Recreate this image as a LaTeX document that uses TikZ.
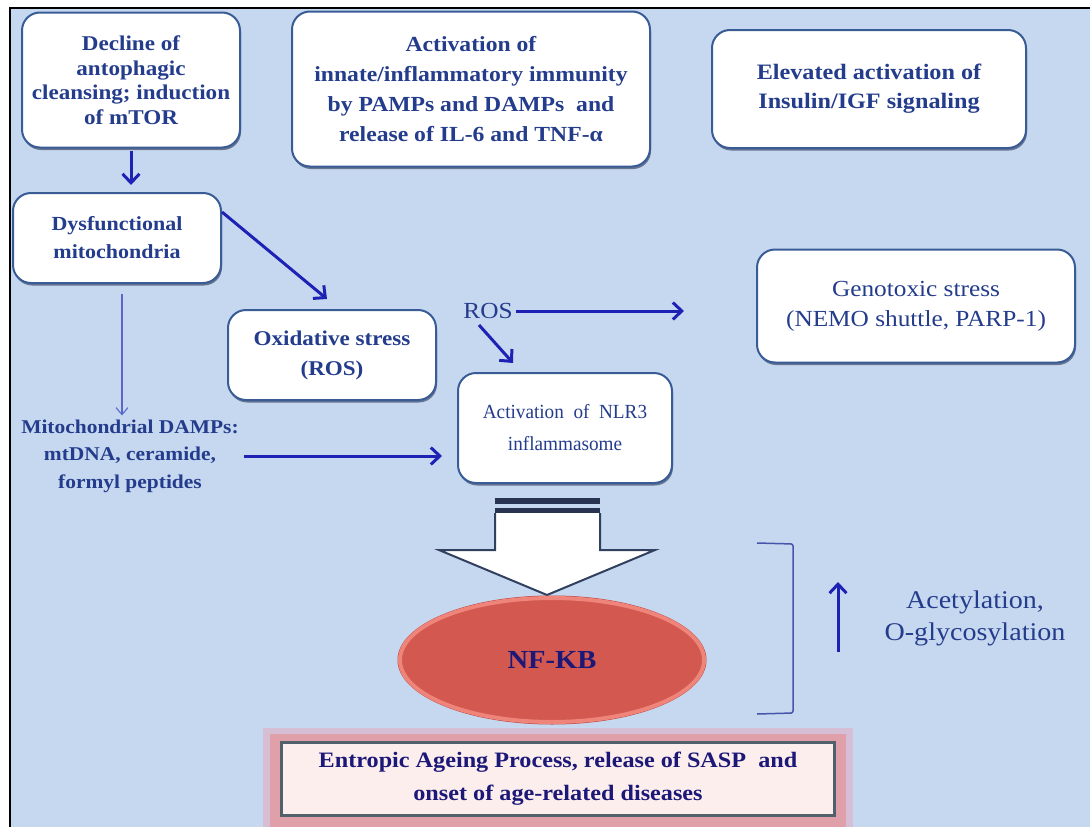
\documentclass[tikz,border=0pt]{standalone}
\usepackage{fontspec}
\setmainfont{Liberation Serif}[FakeStretch=1.1]
\newfontfamily\condserif{Liberation Serif}[FakeStretch=0.96]
\usetikzlibrary{arrows.meta,shadows,shapes.geometric}
\definecolor{bgblue}{RGB}{198,216,240}
\definecolor{boxline}{RGB}{58,92,150}
\definecolor{shadowc}{RGB}{40,52,80}
\definecolor{txtblue}{RGB}{36,60,140}
\definecolor{arrblue}{RGB}{30,34,180}
\definecolor{thinblue}{RGB}{90,105,200}
\definecolor{ellred}{RGB}{210,88,80}
\definecolor{ellrim}{RGB}{238,132,122}
\definecolor{ellout}{RGB}{190,70,64}
\definecolor{navy}{RGB}{28,24,120}
\definecolor{navybar}{RGB}{40,52,82}
\definecolor{glow}{RGB}{224,160,170}
\definecolor{glowsoft}{RGB}{214,190,212}
\definecolor{botfill}{RGB}{253,238,238}
\definecolor{botline}{RGB}{82,96,108}
\definecolor{bigline}{RGB}{50,64,96}
\definecolor{brack}{RGB}{70,84,170}
\begin{document}
\begin{tikzpicture}[x=1pt,y=-1pt,
  box/.style={draw=boxline, line width=2pt, fill=white, rounded corners=18pt,
    align=center, text=txtblue, inner sep=2pt,
    drop shadow={shadow xshift=1pt, shadow yshift=-2.5pt, opacity=0.6, fill=shadowc}},
  lbl/.style={align=center, text=txtblue, inner sep=1pt},
  arr/.style={draw=arrblue, line width=3pt, -{Straight Barb[length=9pt,width=17pt]}},
  thinarr/.style={draw=thinblue, line width=1.1pt, -{Straight Barb[length=7pt,width=12pt]}}]
\useasboundingbox (0,0) rectangle (1090,827);
\fill[white] (0,0) rectangle (1090,827);
\fill[bgblue] (10,8) rectangle (1090,827);
\draw[black, line width=2pt] (10,827) -- (10,8) -- (1090,8);

% boxes
\node[box, minimum width=218pt, minimum height=135pt,
  font=\bfseries\fontsize{21}{24.5}\selectfont] (b1) at (131,80)
  {Decline of\\antophagic\\cleansing; induction\\of mTOR};
\node[box, minimum width=358pt, minimum height=155pt,
  font=\bfseries\fontsize{21.5}{30}\selectfont] (b2) at (471,89)
  {Activation of\\innate/inflammatory immunity\\by PAMPs and DAMPs~~and\\release of IL-6 and TNF-α};
\node[box, minimum width=314pt, minimum height=118pt,
  font=\bfseries\fontsize{22}{29}\selectfont] (b3) at (869,89)
  {Elevated activation of\\Insulin/IGF signaling};
\node[box, minimum width=208pt, minimum height=90pt,
  font=\bfseries\fontsize{20}{28}\selectfont] (dys) at (117,238)
  {Dysfunctional\\mitochondria};
\node[box, minimum width=208pt, minimum height=90pt,
  font=\bfseries\fontsize{21}{30}\selectfont] (oxid) at (332,355)
  {Oxidative stress\\(ROS)};
\node[box, minimum width=318pt, minimum height=113pt,
  font=\fontsize{23}{30}\selectfont] (geno) at (916,306)
  {Genotoxic stress\\(NEMO shuttle, PARP-1)};
\node[box, minimum width=214pt, minimum height=110pt,
  font=\condserif\fontsize{20}{32}\selectfont] (nlr) at (565,428)
  {Activation~~of~~NLR3\\inflammasome};
\node[lbl, font=\bfseries\fontsize{19.5}{27.5}\selectfont] (damps) at (130,456)
  {Mitochondrial DAMPs:\\mtDNA, ceramide,\\formyl peptides};
\node[lbl, font=\fontsize{23}{28}\selectfont] (ros) at (488,311) {ROS};
\node[lbl, font=\fontsize{25.5}{32}\selectfont] (acet) at (975,618)
  {Acetylation,\\O-glycosylation};

% big hollow arrow
\fill[navybar] (495,498) rectangle (600,504);
\fill[navybar] (495,508) rectangle (600,513);
\filldraw[draw=bigline, fill=white, line width=2pt, line join=miter]
  (495,513) -- (495,550) -- (439,550) -- (547,595) -- (655,550) -- (600,550) -- (600,513);

% NF-KB ellipse
\draw[ellout, line width=1pt] (552,660) ellipse [x radius=154, y radius=64];
\node[ellipse, minimum width=304pt, minimum height=124pt, fill=ellred, draw=ellrim,
  line width=4pt, text=navy, inner sep=0pt,
  font=\bfseries\fontsize{26}{30}\selectfont] (nfkb) at (552,660) {NF-KB};

% bottom box
\fill[glowsoft] (263,728) rectangle (853,835);
\fill[glow] (270,734) rectangle (846,835);
\node[draw=botline, line width=2.5pt, fill=botfill, minimum width=553pt,
  minimum height=73pt, align=center, text=navy, inner sep=2pt,
  font=\bfseries\fontsize{22}{33}\selectfont] (bot) at (558,779)
  {Entropic Ageing Process, release of SASP~~and\\onset of age-related diseases};

% bracket
\draw[brack, line width=1.5pt, rounded corners=2pt] (757,543) -- (793,544) -- (793,713) -- (757,714);

% connectors
\draw[arr, shorten >=7pt, shorten <=2pt] (b1.south) -- (b1.south |- dys.north);
\draw[arr] ([yshift=26pt]dys.east) -- ([xshift=-5pt,yshift=10pt]oxid.north);
\draw[thinarr, shorten >=3pt] ([xshift=5pt,yshift=-10pt]dys.south) -- ([xshift=-8pt]damps.north);
\draw[arr, shorten >=15pt, shorten <=4pt] (damps.east) -- (damps.east -| nlr.west);
\draw[arr, shorten >=72pt, shorten <=2pt] (ros.east) -- (ros.east -| geno.west);
\draw[arr] ([xshift=-9pt,yshift=-14pt]ros.center) -- ([xshift=-52pt,yshift=9pt]nlr.north);
\coordinate (acb) at (838,652);
\coordinate (act) at (838,582);
\draw[arr] (acb) -- (act);
\end{tikzpicture}
\end{document}
